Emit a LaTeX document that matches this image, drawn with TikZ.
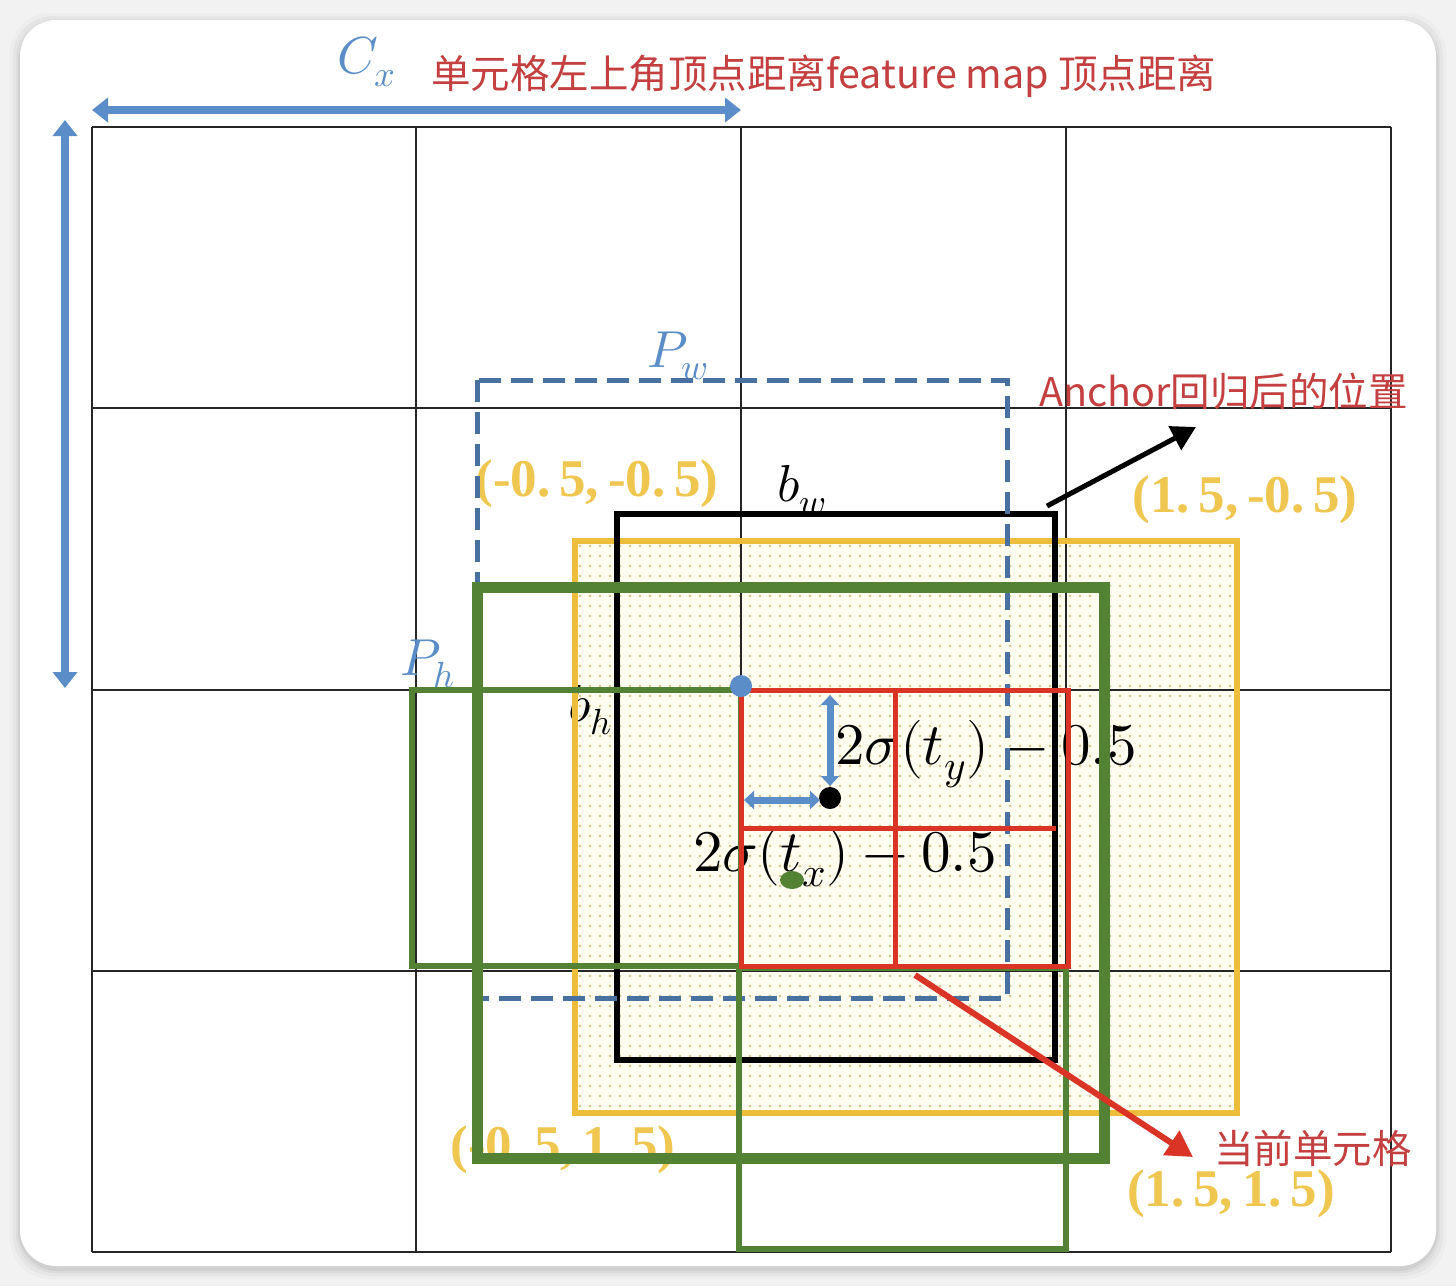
\documentclass[tikz,border=0pt]{standalone}
\usepackage{fontspec}
\usepackage{unicode-math}
\setmathfont{Latin Modern Math}
\usetikzlibrary{arrows.meta,patterns.meta,shapes.geometric}
\newfontfamily\cjk{Noto Sans CJK SC}
\newfontfamily\yfont{Liberation Serif}
\definecolor{cblue}{RGB}{91,142,200}
\definecolor{dblue}{RGB}{72,112,160}
\definecolor{cgreen}{RGB}{84,130,53}
\definecolor{cred}{RGB}{218,52,38}
\definecolor{tred}{RGB}{196,64,64}
\definecolor{cyel}{RGB}{236,190,60}
\definecolor{ylab}{RGB}{238,198,80}
\definecolor{cream}{RGB}{255,252,240}
\definecolor{dotc}{RGB}{212,194,130}
\definecolor{bggray}{RGB}{242,242,242}
\tikzdeclarepattern{
  name=ydots,
  type=uncolored,
  bottom left={(-2pt,-2pt)},
  top right={(8pt,8pt)},
  tile size={(10pt,10pt)},
  code={\fill (0pt,0pt) circle (1.4pt);}
}
\tikzset{
  gridline/.style={draw=black!85, line width=2pt},
  cjktext/.style={font=\cjk\fontsize{39.5}{44}\selectfont, text=tred, inner sep=0pt},
  mathlab/.style={font=\fontsize{52}{56}\selectfont, inner sep=0pt},
  biglab/.style={font=\fontsize{59}{64}\selectfont, inner sep=0pt},
  ylabel/.style={font=\yfont\bfseries\fontsize{53}{58}\selectfont, text=ylab, inner sep=0pt},
  bigarrow/.style={draw=cblue, line width=8pt, {Triangle[width=24pt,length=16pt]}-{Triangle[width=24pt,length=16pt]}},
  smallarrow/.style={draw=cblue, line width=7pt, {Triangle[width=18pt,length=10pt]}-{Triangle[width=18pt,length=10pt]}},
}
\begin{document}
\begin{tikzpicture}[x=1pt,y=-1pt]
\useasboundingbox (0,0) rectangle (1456,1286);
% background and card
\fill[bggray] (0,0) rectangle (1456,1286);
\foreach \i/\o in {10/0.02,7/0.03,4/0.04,2/0.05}{
  \fill[black,opacity=\o,rounded corners=40pt] (20-\i,20-\i+3) rectangle (1436+\i,1266+\i+3);
}
\fill[white,rounded corners=36pt] (20,20) rectangle (1436,1266);

% yellow dotted fill
\fill[cream] (575,541) rectangle (1237,1113);
\fill[pattern=ydots, pattern color=dotc] (575,541) rectangle (1237,1113);

% grid
\foreach \x in {92,416,741,1066,1391}{ \draw[gridline] (\x,127) -- (\x,1252); }
\foreach \y in {127,408,690,971,1252}{ \draw[gridline] (92,\y) -- (1391,\y); }

% labels (below the boxes)
\node[mathlab, text=cblue] (cx) at (367,62) {$C_x$};
\node[cjktext, anchor=west] (title) at (431,76) {单元格左上角顶点距离feature map 顶点距离};
\node[mathlab, text=cblue] (pw) at (678,356) {$P_w$};
\node[mathlab] (bw) at (802,490) {$b_w$};
\node[mathlab, text=cblue] (ph) at (428,664) {$P_h$};
\node[mathlab] (bh) at (590,710) {$b_h$};
\node[biglab] (ty) at (986,754) {$2\sigma(t_y)-0.5$};
\node[biglab] (tx) at (845,857) {$2\sigma(t_x)-0.5$};
\node[cjktext, anchor=west] (anch) at (1039,391) {Anchor回归后的位置};
\node[cjktext, anchor=west] (cur) at (1214,1148) {当前单元格};
\node[ylabel] (lt) at (597,484) {(-0.\,5,\,-0.\,5)};
\node[ylabel] (rt) at (1245,500) {(1.\,5,\,-0.\,5)};
\node[ylabel] (lb) at (563,1150) {(-0.\,5,\,1.\,5)};
\node[ylabel] (rb) at (1231,1194) {(1.\,5,\,1.\,5)};

% yellow border
\draw[cyel, line width=6pt] (575,541) rectangle (1237,1113);
% black box b
\draw[black, line width=6pt] (617,514) rectangle (1055,1060);
% dashed blue P box
\draw[dblue, line width=5pt, dash pattern=on 22pt off 10pt] (477,380) rectangle (1007,998);
% green thick
\draw[cgreen, line width=11pt] (477,587) rectangle (1104,1158);
% green thin
\draw[cgreen, line width=6pt] (412,690) rectangle (741,966);
\draw[cgreen, line width=6pt] (739,968) rectangle (1066,1249);
% red grid cell
\draw[cred, line width=5pt] (741,690) rectangle (1068,966);
\draw[cred, line width=5pt] (895,690) -- (895,966);
\draw[cred, line width=5pt] (741,828) -- (1056,828);

% arrows
\coordinate (tl) at (92,110);
\coordinate (tr) at (741,110);
\draw[bigarrow] (tl) -- (tr);
\coordinate (lu) at (65,120);
\coordinate (ld) at (65,688);
\draw[bigarrow] (lu) -- (ld);

\node[circle, fill=cblue, minimum size=22pt, inner sep=0pt] (bdot) at (741,686) {};
\node[circle, fill=black, minimum size=22pt, inner sep=0pt] (kdot) at (830,798) {};
\node[ellipse, fill=cgreen, minimum width=24pt, minimum height=18pt, inner sep=0pt] (gdot) at (792,880) {};

\coordinate (vt) at (830,695);
\coordinate (vb) at (830,786);
\draw[smallarrow] (vt) -- (vb);
\coordinate (hl) at (744,800);
\coordinate (hr) at (820,800);
\draw[smallarrow] (hl) -- (hr);

\coordinate (ka) at (1047,506);
\coordinate (kb) at (1196,427);
\draw[black, line width=5pt, -{Triangle[width=26pt,length=24pt]}] (ka) -- (kb);
\coordinate (ra) at (915,975);
\coordinate (rb) at (1193,1157);
\draw[cred, line width=6pt, -{Triangle[width=28pt,length=26pt]}] (ra) -- (rb);
\end{tikzpicture}
\end{document}
